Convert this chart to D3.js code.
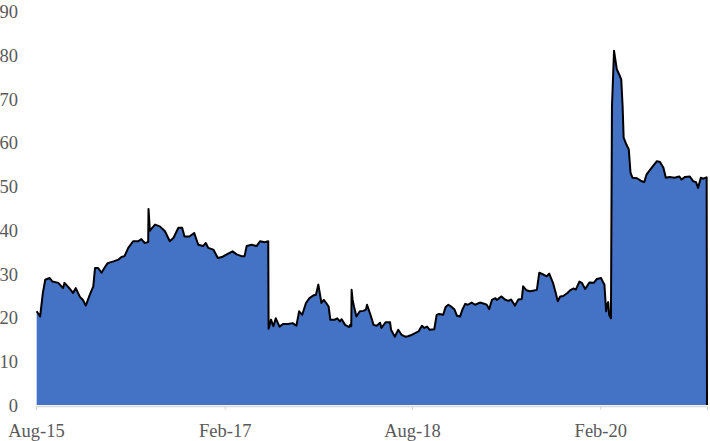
<!DOCTYPE html>
<html>
<head>
<meta charset="utf-8">
<script src="https://cdn.jsdelivr.net/npm/d3@7"></script>
<style>
  body { margin: 0; background: #fff; }
  svg { display: block; }
</style>
</head>
<body>
<svg id="chart"></svg>
<script>
// series
var dates2015 = ["2015-08-03","2015-08-13","2015-08-21","2015-08-28","2015-09-10","2015-09-18","2015-10-05","2015-10-19","2015-10-23","2015-11-06","2015-11-17","2015-11-25","2015-12-07","2015-12-16","2015-12-24"];
var values2015 = [21.4, 20.2, 25.6, 28.6, 29.0, 28.2, 27.9, 26.7, 27.9, 26.7, 25.6, 26.7, 24.7, 24.0, 22.7];

var dates2016 = ["2016-01-05","2016-01-15","2016-01-20","2016-01-29","2016-02-08","2016-02-18","2016-02-26","2016-03-14","2016-03-28","2016-04-06",
                 "2016-04-15","2016-04-26","2016-05-10","2016-05-25","2016-06-03","2016-06-13","2016-06-23","2016-06-24","2016-06-28","2016-07-01",
                 "2016-07-13","2016-07-27","2016-08-11","2016-08-25","2016-09-05","2016-09-19","2016-09-30","2016-10-07","2016-10-21","2016-11-04",
                 "2016-11-16","2016-11-30","2016-12-08","2016-12-15","2016-12-30"];
var values2016 = [25.2, 27.1, 31.3, 31.3, 30.2, 31.5, 32.4, 32.8, 33.2, 33.8,
                  34.0, 35.9, 37.4, 37.4, 37.9, 37.0, 37.2, 44.8, 39.8, 40.1,
                  41.2, 40.8, 39.7, 37.4, 38.2, 40.5, 40.5, 38.5, 38.5, 39.3,
                  36.6, 36.3, 37.0, 35.9, 35.5];

var dates2017 = ["2017-01-12","2017-01-24","2017-02-07","2017-02-24","2017-03-08","2017-03-22","2017-03-31","2017-04-06","2017-04-21","2017-05-05",
                 "2017-05-15","2017-05-29","2017-06-08","2017-06-09","2017-06-16","2017-06-23","2017-06-30","2017-07-11","2017-07-21","2017-08-04",
                 "2017-08-18","2017-08-29","2017-09-06","2017-09-15","2017-09-26","2017-10-06","2017-10-17","2017-10-25","2017-11-01","2017-11-06",
                 "2017-11-10","2017-11-17","2017-11-24","2017-12-01","2017-12-06","2017-12-19","2017-12-26"];
var values2017 = [33.6, 33.8, 34.4, 35.1, 34.4, 34.0, 34.0, 36.3, 36.6, 36.3,
                  37.4, 37.2, 37.4, 17.4, 19.5, 18.0, 19.8, 17.9, 18.5, 18.5,
                  18.7, 18.1, 21.4, 20.6, 23.3, 24.4, 25.0, 25.2, 27.5, 25.2,
                  23.3, 24.0, 23.3, 22.5, 19.5, 19.5, 19.8];

var dates2018 = ["2018-01-03","2018-01-08","2018-01-18","2018-01-30","2018-02-02","2018-02-05","2018-02-06","2018-02-09","2018-02-13","2018-02-20",
                 "2018-03-02","2018-03-12","2018-03-20","2018-03-23","2018-04-02","2018-04-11","2018-04-20","2018-04-30","2018-05-04","2018-05-16",
                 "2018-05-29","2018-06-01","2018-06-12","2018-06-22","2018-07-02","2018-07-12","2018-07-20","2018-07-31","2018-08-10","2018-08-20",
                 "2018-08-30","2018-09-06","2018-09-14","2018-09-21","2018-10-05","2018-10-12","2018-10-19","2018-10-31","2018-11-07","2018-11-15",
                 "2018-11-23","2018-12-03","2018-12-10","2018-12-19","2018-12-26"];
var values2018 = [19.1, 19.6, 18.3, 17.8, 18.3, 18.0, 26.3, 24.0, 22.5, 20.2,
                  21.4, 21.5, 21.8, 22.9, 20.6, 18.3, 18.1, 18.8, 17.6, 18.9,
                  18.9, 17.2, 15.6, 17.2, 16.0, 15.6, 15.7, 16.0, 16.4, 16.8,
                  18.1, 17.6, 17.9, 17.2, 17.3, 20.6, 20.8, 20.6, 22.4, 22.9,
                  22.5, 21.8, 20.4, 20.2, 21.8];

var dates2019 = ["2019-01-03","2019-01-11","2019-01-22","2019-02-01","2019-02-15","2019-02-25","2019-03-07","2019-03-14","2019-03-22","2019-04-01",
                 "2019-04-05","2019-04-19","2019-04-29","2019-05-09","2019-05-17","2019-05-28","2019-06-07","2019-06-17","2019-06-21","2019-07-01",
                 "2019-07-11","2019-07-19","2019-07-31","2019-08-07","2019-08-19","2019-08-29","2019-09-05","2019-09-16","2019-09-23","2019-09-30",
                 "2019-10-07","2019-10-16","2019-10-28","2019-11-07","2019-11-14","2019-11-22","2019-12-02","2019-12-09","2019-12-19","2019-12-31"];
var values2019 = [23.1, 22.9, 23.4, 22.9, 23.4, 23.2, 22.9, 21.9, 24.0, 24.4,
                  24.0, 24.8, 24.1, 23.8, 24.1, 22.7, 24.1, 24.2, 27.1, 26.2,
                  26.0, 26.1, 26.3, 30.2, 29.8, 29.4, 30.0, 27.9, 25.9, 23.7,
                  24.8, 24.9, 25.6, 26.3, 26.6, 26.4, 28.2, 27.9, 26.5, 28.0];

var dates2020 = ["2020-01-13","2020-01-22","2020-02-03","2020-02-10","2020-02-13","2020-02-18","2020-02-20","2020-02-24","2020-02-27","2020-03-03",
                 "2020-03-06","2020-03-12","2020-03-20","2020-03-27","2020-04-02","2020-04-06","2020-04-09","2020-04-17","2020-04-24","2020-04-29",
                 "2020-05-05","2020-05-18","2020-06-01","2020-06-08","2020-06-15","2020-06-30","2020-07-15","2020-07-24","2020-08-03","2020-08-10",
                 "2020-08-21","2020-09-04","2020-09-18","2020-09-25","2020-10-05","2020-10-19","2020-10-29","2020-11-06","2020-11-12","2020-11-20",
                 "2020-11-27","2020-12-07","2020-12-08"];
var values2020 = [27.9, 28.8, 29.0, 27.9, 27.5, 21.4, 22.5, 23.5, 20.5, 19.8,
                  68.3, 80.9, 76.7, 75.5, 74.4, 68.3, 61.1, 59.5, 58.4, 53.1,
                  51.9, 51.8, 51.1, 50.9, 52.7, 54.2, 55.7, 55.5, 54.2, 51.9,
                  52.1, 51.9, 52.2, 51.5, 52.1, 52.2, 51.1, 50.9, 49.6, 51.9,
                  51.7, 52.0, 0];

var yTicks = [0, 10, 20, 30, 40, 50, 60, 70, 80, 90];
var xTicks = ["2015-08-01", "2017-02-01", "2018-08-01", "2020-02-01"];
var xStart = "2015-08-01", xEnd = "2020-12-08";

var width = 710, height = 441;
var parse = d3.timeParse("%Y-%m-%d");

var allDates = dates2015.concat(dates2016, dates2017, dates2018, dates2019, dates2020);
var allValues = values2015.concat(values2016, values2017, values2018, values2019, values2020);
var data = allDates.map(function (d, i) {
    return {date: parse(d), value: allValues[i]};
});

var svg = d3.select("#chart")
    .attr("width", width)
    .attr("height", height)
    .style("font-family", "'Liberation Serif', 'Times New Roman', serif");

svg.append("rect").attr("width", width).attr("height", height).attr("fill", "#fff");

var x = d3.scaleTime().domain([parse(xStart), parse(xEnd)]).range([36, 707]);
var y = d3.scaleLinear().domain([0, 90]).range([405, 11]);

var area = d3.area()
    .x(function (d) { return x(d.date); })
    .y0(y(0))
    .y1(function (d) { return y(d.value); });

var line = d3.line()
    .x(function (d) { return x(d.date); })
    .y(function (d) { return y(d.value); });

svg.append("path")
    .datum(data)
    .attr("d", area)
    .attr("fill", "#4472c4");

svg.append("path")
    .datum(data)
    .attr("d", line)
    .attr("fill", "none")
    .attr("stroke", "#000")
    .attr("stroke-width", 2)
    .attr("stroke-linejoin", "round");

// x axis, light grey like excel
var xAxis = d3.axisBottom(x)
    .tickValues(xTicks.map(parse))
    .tickFormat(d3.timeFormat("%b-%y"))
    .tickSize(4)
    .tickPadding(14);

var gx = svg.append("g")
    .attr("transform", "translate(0," + (y(0) + 1) + ")")
    .call(xAxis);
gx.select(".domain").attr("stroke", "#d9d9d9").attr("stroke-width", 1.3);
gx.selectAll(".tick line").attr("stroke", "#d9d9d9");
gx.selectAll(".tick text")
    .attr("fill", "#595959")
    .style("font-size", "18.5px")
    .style("font-family", "'Liberation Serif', 'Times New Roman', serif");

// y labels only, no axis line
svg.selectAll(".ylab")
    .data(yTicks)
    .enter().append("text")
    .attr("class", "ylab")
    .attr("x", 18)
    .attr("y", function (d) { return y(d) + 7; })
    .attr("text-anchor", "end")
    .attr("fill", "#595959")
    .style("font-size", "18.5px")
    .text(function (d) { return d; });
</script>
</body>
</html>
